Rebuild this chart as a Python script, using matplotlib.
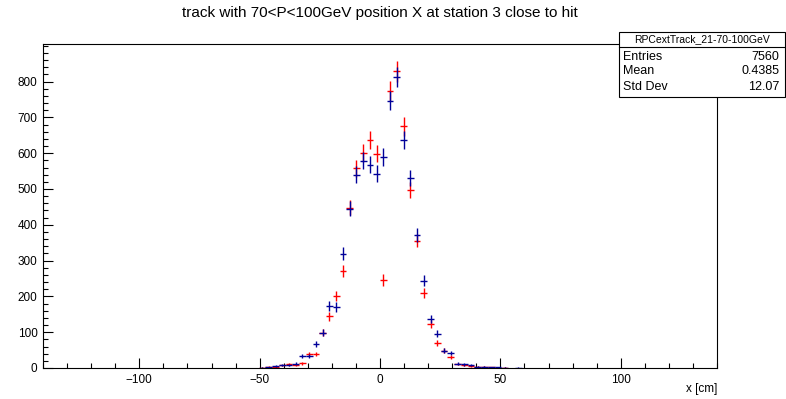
import numpy as np
import matplotlib
matplotlib.use('Agg')
import matplotlib.pyplot as plt
from matplotlib.ticker import MultipleLocator
from matplotlib.patches import Rectangle
from matplotlib.lines import Line2D

plt.rcParams['font.family'] = ['Liberation Sans', 'DejaVu Sans']

# Bin centres (bin width 2.8 cm, 100 bins from -140 to 140), only filled bins
x_centres = [-49.0, -46.2, -43.4, -40.6, -37.8, -35.0, -32.2, -29.4, -26.6, -23.8,
             -21.0, -18.2, -15.4, -12.6, -9.8, -7.0, -4.2, -1.4, 1.4, 4.2,
             7.0, 9.8, 12.6, 15.4, 18.2, 21.0, 23.8, 26.6, 29.4, 32.2,
             35.0, 37.8, 40.6, 43.4, 46.2, 49.0, 51.8, 54.6, 57.4]
counts_blue = [1, 2, 5, 8, 9, 12, 34, 34, 67, 99,
               173, 170, 319, 445, 540, 579, 568, 543, 589, 747,
               813, 636, 530, 372, 244, 136, 95, 48, 42, 12,
               10, 8, 4, 3, 2, 2, 1, 0, 1]
counts_red = [1, 3, 4, 7, 10, 9, 13, 39, 39, 99,
              144, 201, 271, 448, 558, 600, 638, 599, 246, 773,
              829, 675, 498, 356, 209, 122, 69, 48, 32, 11,
              9, 6, 4, 3, 2, 1, 1, 0, 0]
y_ticks = [0, 100, 200, 300, 400, 500, 600, 700, 800]

title = 'track with 70<P<100GeV position X at station 3 close to hit'
stat_name = 'RPCextTrack_21-70-100GeV'
stat_labels = ['Entries', 'Mean', 'Std Dev']
stat_values = ['7560', '0.4385', '12.07']

W, H = 786, 399
fig = plt.figure(figsize=(W / 100, H / 100), dpi=100)


def fx(px):
    return px / W


def fy(py):
    return 1 - py / H


ax = fig.add_axes([fx(43), fy(368), fx(717) - fx(43), fy(44) - fy(368)])

half_bin = 1.4
for counts, col in [(counts_red, '#ff0000'), (counts_blue, '#000099')]:
    xs = np.array(x_centres)
    ys = np.array(counts, dtype=float)
    m = ys > 0
    ax.errorbar(xs[m], ys[m], xerr=half_bin, yerr=np.sqrt(ys[m]), fmt='none',
                ecolor=col, elinewidth=1.0, capsize=0)

ax.set_xlim(-140, 140)
ax.set_ylim(0, 905)
ax.xaxis.set_major_locator(MultipleLocator(50))
ax.xaxis.set_minor_locator(MultipleLocator(10))
ax.set_yticks(y_ticks)
ax.yaxis.set_minor_locator(MultipleLocator(20))
ax.tick_params(which='both', direction='in', top=False, right=False,
               labelsize=8.5, width=0.8, pad=4)
ax.tick_params(which='major', length=7)
ax.tick_params(which='minor', length=3.5)
for s in ax.spines.values():
    s.set_linewidth(0.8)

fig.text(fx(380), fy(13), title, ha='center', va='center', fontsize=11)
fig.text(fx(717), fy(389), 'x [cm]', ha='right', va='center', fontsize=8.5)

# statistics box
bx0, bx1, by0, by1 = 619, 785, 32, 97
fig.patches.append(Rectangle((fx(bx0), fy(by1)), fx(bx1) - fx(bx0), fy(by0) - fy(by1),
                             transform=fig.transFigure, facecolor='white',
                             edgecolor='black', linewidth=0.8, zorder=5))
fig.lines.append(Line2D([fx(bx0), fx(bx1)], [fy(47), fy(47)], transform=fig.transFigure,
                        color='black', linewidth=0.8, zorder=6))
fig.text(fx((bx0 + bx1) / 2), fy(39.5), stat_name, ha='center', va='center',
         fontsize=7.5, zorder=7)
for i, (lab, val) in enumerate(zip(stat_labels, stat_values)):
    yy = fy(56.5 + 15 * i)
    fig.text(fx(623), yy, lab, ha='left', va='center', fontsize=9, zorder=7)
    fig.text(fx(779), yy, val, ha='right', va='center', fontsize=9, zorder=7)

fig.savefig('out.png', dpi=100)
